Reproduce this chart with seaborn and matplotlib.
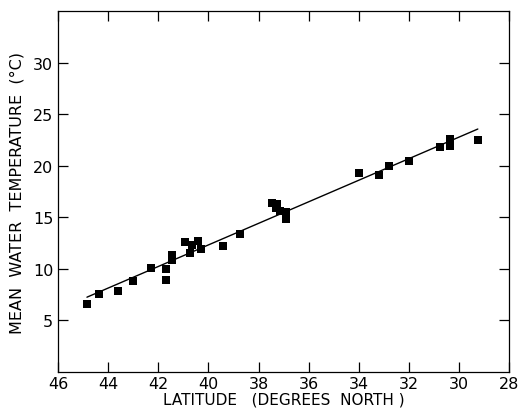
import matplotlib
matplotlib.use("Agg")
import matplotlib.pyplot as plt
import seaborn as sns
import pandas as pd

# Latitude (degrees north) and mean water temperature (deg C)
latitude = [44.85, 44.35, 43.6, 43.0, 42.3, 41.7, 41.7, 41.45, 41.45, 40.95,
            40.75, 40.65, 40.4, 40.3, 39.4, 38.75, 37.45, 37.25, 37.15, 37.3,
            36.9, 36.9, 34.0, 33.2, 32.8, 32.0, 30.75, 30.35, 30.35, 29.25]
temperature = [6.6, 7.6, 7.9, 8.85, 10.1, 8.95, 10.0, 11.3, 10.9, 12.6,
               11.5, 12.35, 12.7, 11.9, 12.2, 13.4, 16.4, 16.3, 15.6, 15.9,
               15.5, 14.8, 19.3, 19.1, 19.95, 20.5, 21.85, 22.6, 21.95, 22.5]

x_ticks = [46, 44, 42, 40, 38, 36, 34, 32, 30, 28]
y_ticks = [5, 10, 15, 20, 25, 30]

df = pd.DataFrame({"lat": latitude, "temp": temperature})

sns.set_style("ticks")
plt.rcParams['font.family'] = ['DejaVu Sans']
plt.rcParams['text.color'] = 'black'
plt.rcParams['axes.labelcolor'] = 'black'

fig = plt.figure(figsize=(5.19, 4.14), dpi=100)
ax = fig.add_axes([0.112, 0.099, 0.869, 0.872])

sns.regplot(data=df, x="lat", y="temp", ax=ax, ci=None,
            marker="s", color="black",
            scatter_kws={"s": 28, "linewidths": 0, "alpha": 1},
            line_kws={"linewidth": 1.0})

ax.set_xlim(46, 28)
ax.set_ylim(0, 35)
ax.set_xticks(x_ticks)
ax.set_yticks(y_ticks)
ax.set_xticklabels([str(v) for v in x_ticks])
ax.set_yticklabels([str(v) for v in y_ticks])

ax.tick_params(direction="in", length=7, width=0.9, labelsize=11.5,
               top=True, right=True, colors="black")
ax.tick_params(axis="x", pad=3)
for s in ax.spines.values():
    s.set_linewidth(0.9)
    s.set_color("black")

ax.set_xlabel("LATITUDE   (DEGREES  NORTH )", fontsize=11, labelpad=0)
ax.set_ylabel("MEAN  WATER  TEMPERATURE  (°C)", fontsize=11.5, labelpad=6)

fig.savefig("out.png", dpi=100)
